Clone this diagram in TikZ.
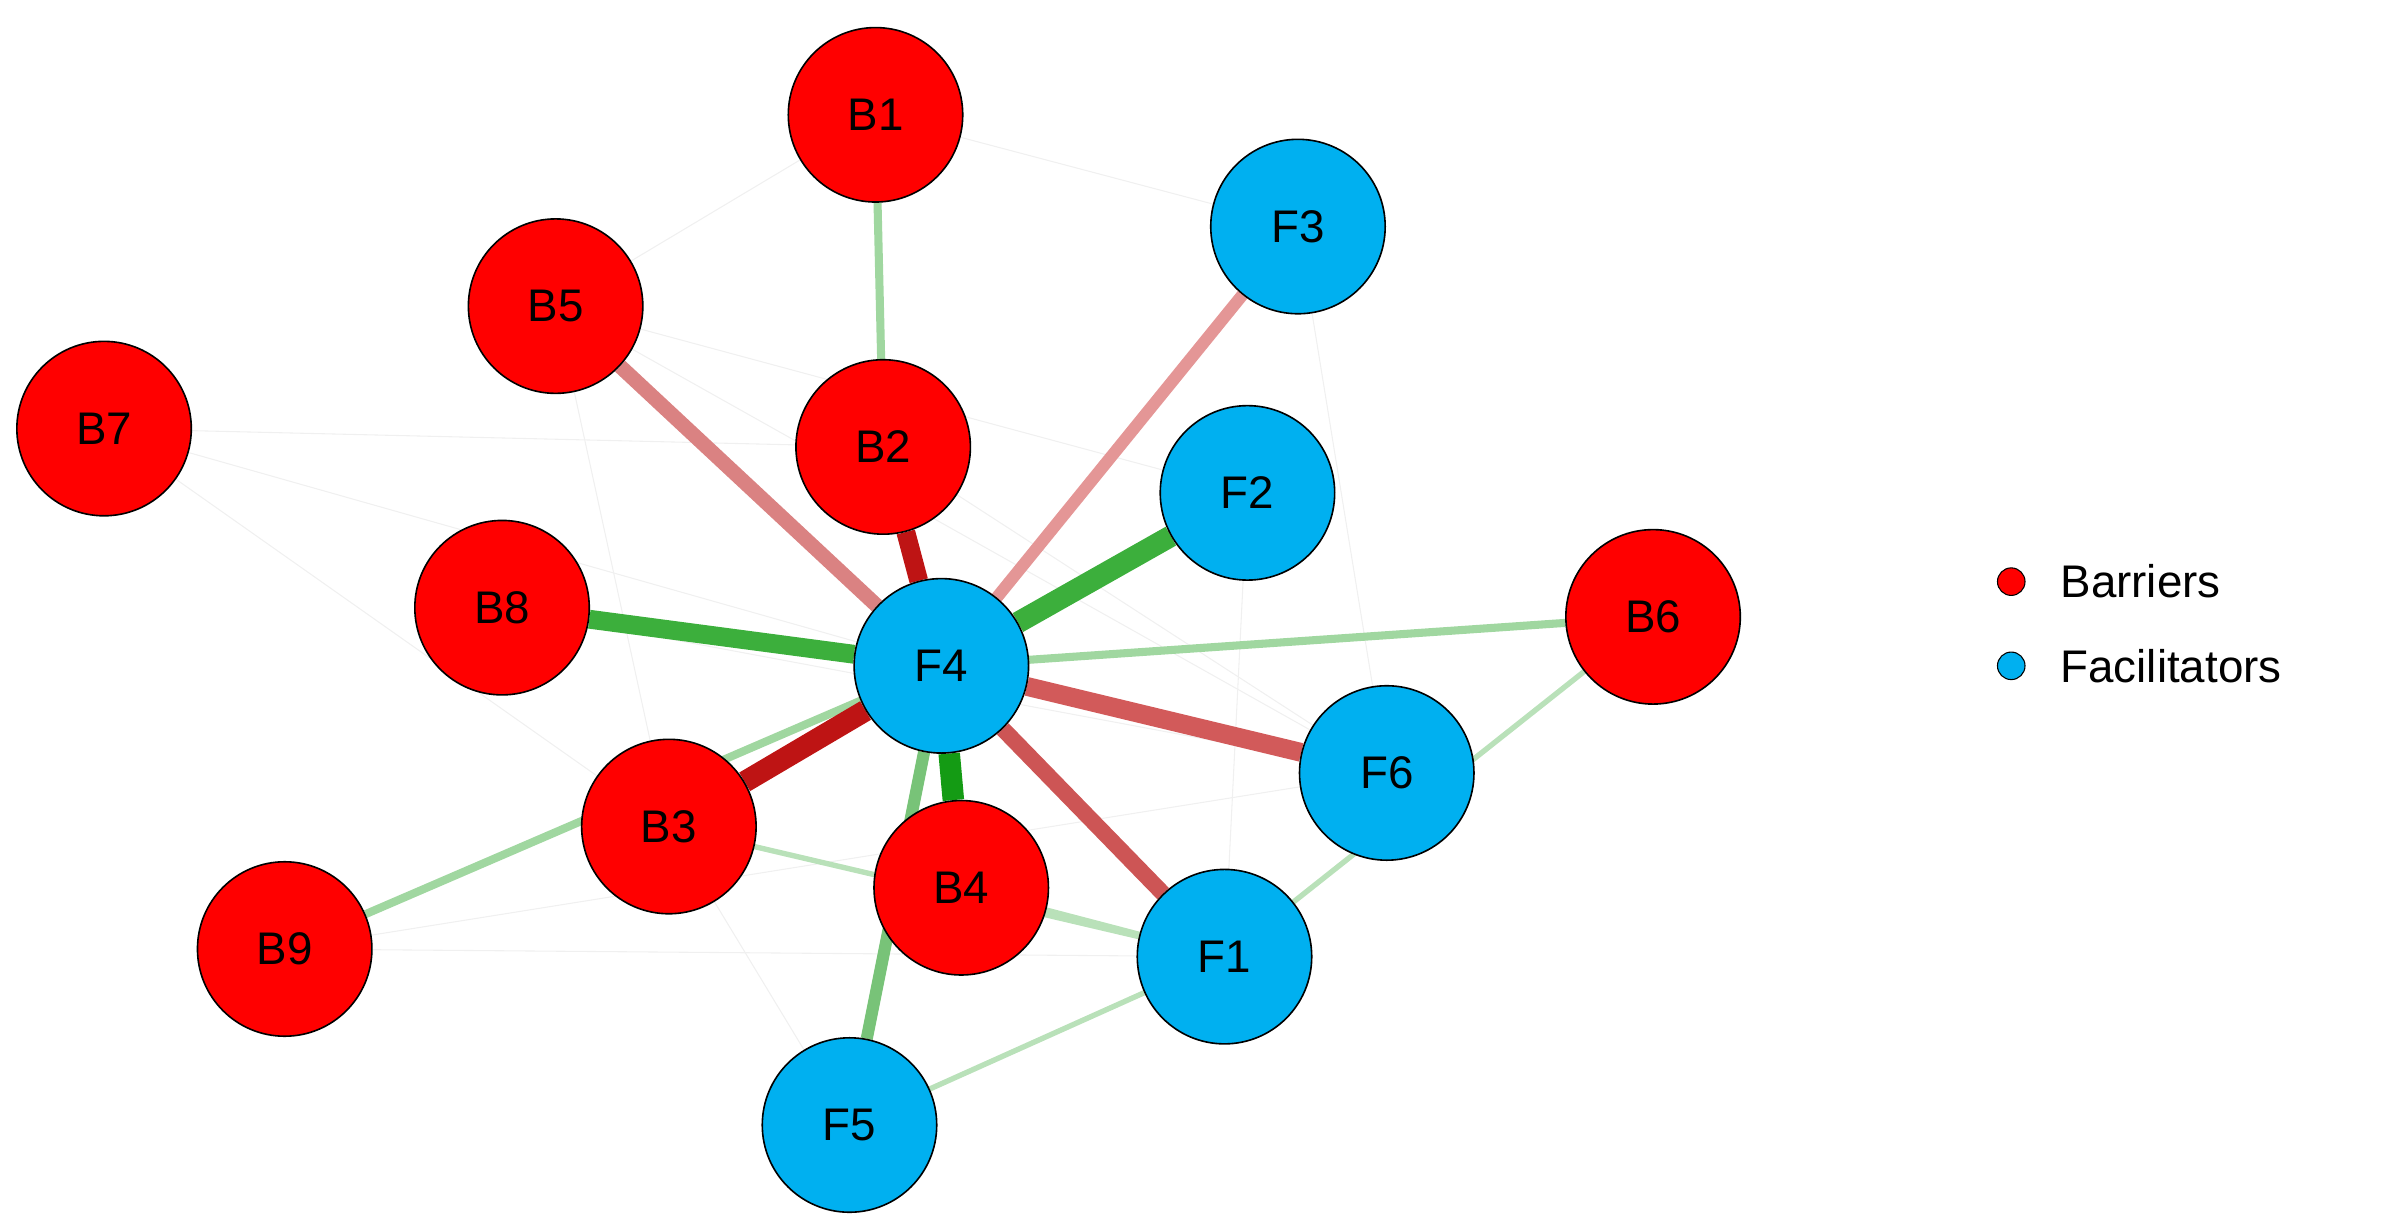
\documentclass[tikz,border=0pt]{standalone}
\usepackage{fontspec}
\setmainfont{Liberation Sans}
\begin{document}
\begin{tikzpicture}[x=0.02cm,y=-0.02cm,
  nd/.style={circle,draw=black,line width=0.6pt,minimum size=2.28cm,inner sep=0pt,font=\fontsize{17}{17}\selectfont},
  bar/.style={nd,fill=red},
  fac/.style={nd,fill=cyan!80!blue!60!white,fill={rgb,255:red,0;green,176;blue,240}},
  lg/.style={draw={rgb,255:red,160;green,215;blue,160},line width=3pt},
  lgt/.style={draw={rgb,255:red,185;green,225;blue,185},line width=2pt},
  faint/.style={draw=gray!12,line width=0.4pt}]
\useasboundingbox (0,0) rectangle (1568,802);
\node[bar] (B1) at (572,75) {B1};
\node[fac] (F3) at (848,148) {F3};
\node[bar] (B5) at (363,200) {B5};
\node[bar] (B7) at (68,280) {B7};
\node[bar] (B2) at (577,292) {B2};
\node[fac] (F2) at (815,322) {F2};
\node[bar] (B6) at (1080,403) {B6};
\node[bar] (B8) at (328,397) {B8};
\node[fac] (F6) at (906,505) {F6};
\node[bar] (B3) at (437,540) {B3};
\node[bar] (B4) at (628,580) {B4};
\node[fac] (F1) at (800,625) {F1};
\node[bar] (B9) at (186,620) {B9};
\node[fac] (F5) at (555,735) {F5};
\node[fac] (F4) at (615,435) {F4};
\begin{scope}[on background layer/.style={}]
\end{scope}
\begin{pgfinterruptboundingbox}\end{pgfinterruptboundingbox}
% edges drawn behind via layers
\pgfdeclarelayer{bg}\pgfsetlayers{bg,main}
\begin{pgfonlayer}{bg}
\foreach \a/\b in {B7/F4,B7/B3,B5/F6,B1/F3,B5/F2,B8/F6,B9/F6,B9/F1,B2/F6,F3/F6,F2/F1,B7/B2,B5/B3,B3/F5,B1/B5}
  \draw[faint] (\a) -- (\b);
\draw[lg] (B1) -- (B2);
\draw[lg] (B9) -- (F4);
\draw[lg] (B6) -- (F4);
\draw[lgt] (B3) -- (F1);
\draw[lgt] (F5) -- (F1);
\draw[lgt] (F1) -- (B6);
\draw[lgt] (B4) -- (F1);
\draw[draw={rgb,255:red,218;green,130;blue,130},line width=5.5pt] (B5) -- (F4);
\draw[draw={rgb,255:red,228;green,150;blue,150},line width=4.5pt] (F3) -- (F4);
\draw[draw={rgb,255:red,190;green,20;blue,20},line width=7pt] (B2) -- (F4);
\draw[draw={rgb,255:red,60;green,175;blue,60},line width=8pt] (F2) -- (F4);
\draw[draw={rgb,255:red,60;green,175;blue,60},line width=7pt] (B8) -- (F4);
\draw[draw={rgb,255:red,210;green,90;blue,90},line width=7pt] (F6) -- (F4);
\draw[draw={rgb,255:red,205;green,85;blue,85},line width=6pt] (F1) -- (F4);
\draw[draw={rgb,255:red,190;green,20;blue,20},line width=8pt] (B3) -- (F4);
\draw[draw={rgb,255:red,20;green,155;blue,20},line width=8pt] (B4) -- (F4);
\draw[draw={rgb,255:red,120;green,195;blue,120},line width=4.5pt] (F5) -- (F4);
\end{pgfonlayer}
\node[circle,fill=red,draw=black,line width=0.4pt,minimum size=0.36cm,inner sep=0pt] (LB) at (1314,380) {};
\node[anchor=west,font=\fontsize{17}{17}\selectfont] (LBt) at (1340,380) {Barriers};
\node[circle,fill={rgb,255:red,0;green,176;blue,240},draw=black,line width=0.4pt,minimum size=0.36cm,inner sep=0pt] (LF) at (1314,435) {};
\node[anchor=west,font=\fontsize{17}{17}\selectfont] (LFt) at (1340,435) {Facilitators};
\end{tikzpicture}
\end{document}
